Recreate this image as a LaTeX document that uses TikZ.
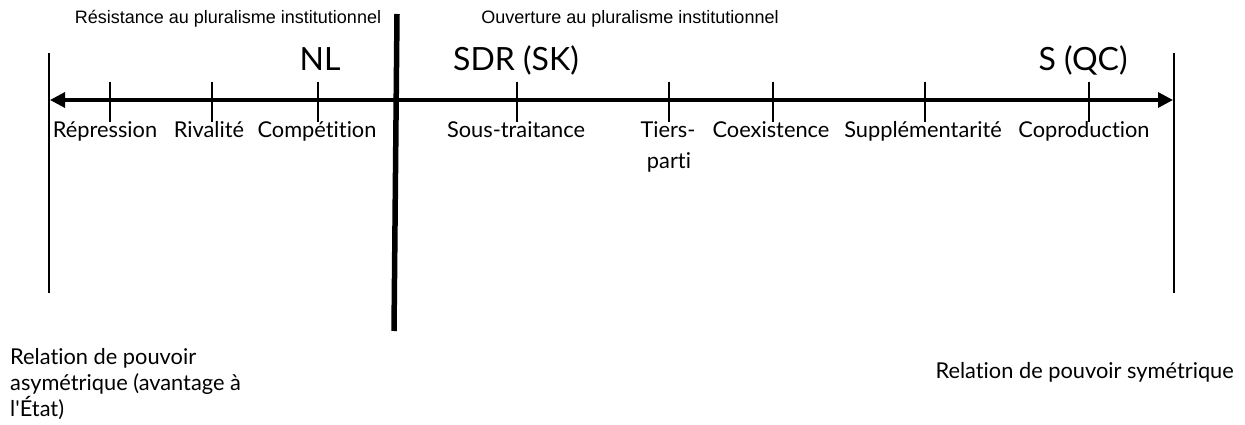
\documentclass[tikz,border=0pt]{standalone}
\usepackage{fontspec}
\setmainfont{Lato}[Ligatures={NoCommon}]
\newfontfamily\helv{Liberation Sans}
\usetikzlibrary{arrows.meta}
\begin{document}
\begin{tikzpicture}[x=1pt,y=-1pt,
  lbl/.style={font=\fontsize{21.8}{26}\selectfont, inner sep=0pt, anchor=base},
  big/.style={font=\fontsize{32}{36}\selectfont, inner sep=0pt, anchor=base},
  ttl/.style={font=\helv\fontsize{18}{20}\selectfont, inner sep=0pt, anchor=base},
  tick/.style={line width=2.8pt},
  bound/.style={line width=2.8pt},
  axis/.style={line width=3.2pt, {Triangle[length=15pt,width=15pt]}-{Triangle[length=15pt,width=15pt]}}]
\useasboundingbox (0,0) rectangle (1245,425);
% boundaries
\coordinate (L1) at (49,53); \coordinate (L2) at (49,293);
\coordinate (R1) at (1174,53); \coordinate (R2) at (1174,293);
\coordinate (M1) at (397,14); \coordinate (M2) at (394,331);
\draw[bound] (L1) -- (L2);
\draw[bound] (R1) -- (R2);
\draw[line width=5.5pt] (M1) -- (M2);
% axis
\coordinate (A1) at (50,100); \coordinate (A2) at (1173,100);
\draw[axis] (A1) -- (A2);
% ticks
\foreach \n/\x in {t1/110,t2/212,t3/318,t4/517,t5/669,t6/773,t7/925,t8/1089}{
  \coordinate (\n a) at (\x,82); \coordinate (\n b) at (\x,122);
  \draw[tick] (\n a) -- (\n b);
}
% labels
\node[lbl] (rep) at (105,138) {Répression};
\node[lbl] (riv) at (209,138) {Rivalité};
\node[lbl] (com) at (317,138) {Compétition};
\node[lbl] (sou) at (516,138) {Sous-traitance};
\node[lbl] (tie) at (668,138) {Tiers-};
\node[lbl] (par) at (669,168) {parti};
\node[lbl] (coe) at (771,138) {Coexistence};
\node[lbl] (sup) at (923,138) {Supplémentarité};
\node[lbl] (cop) at (1084,138) {Coproduction};
% big
\node[big] (nl) at (320,71) {NL};
\node[big] (sdr) at (516,71) {SDR (SK)};
\node[big] (sqc) at (1083,71) {S (QC)};
% titles
\node[ttl] (res) at (228,24) {Résistance au pluralisme institutionnel};
\node[ttl] (ouv) at (630,24) {Ouverture au pluralisme institutionnel};
% bottom
\node[font=\fontsize{21.8}{26}\selectfont, inner sep=0pt, anchor=base west, align=left] (asy) at (10,416) {Relation de pouvoir\\asymétrique (avantage à\\l\textquotesingle État)};
\node[lbl, anchor=base east] (sym) at (1234,378) {Relation de pouvoir symétrique};
\end{tikzpicture}
\end{document}
